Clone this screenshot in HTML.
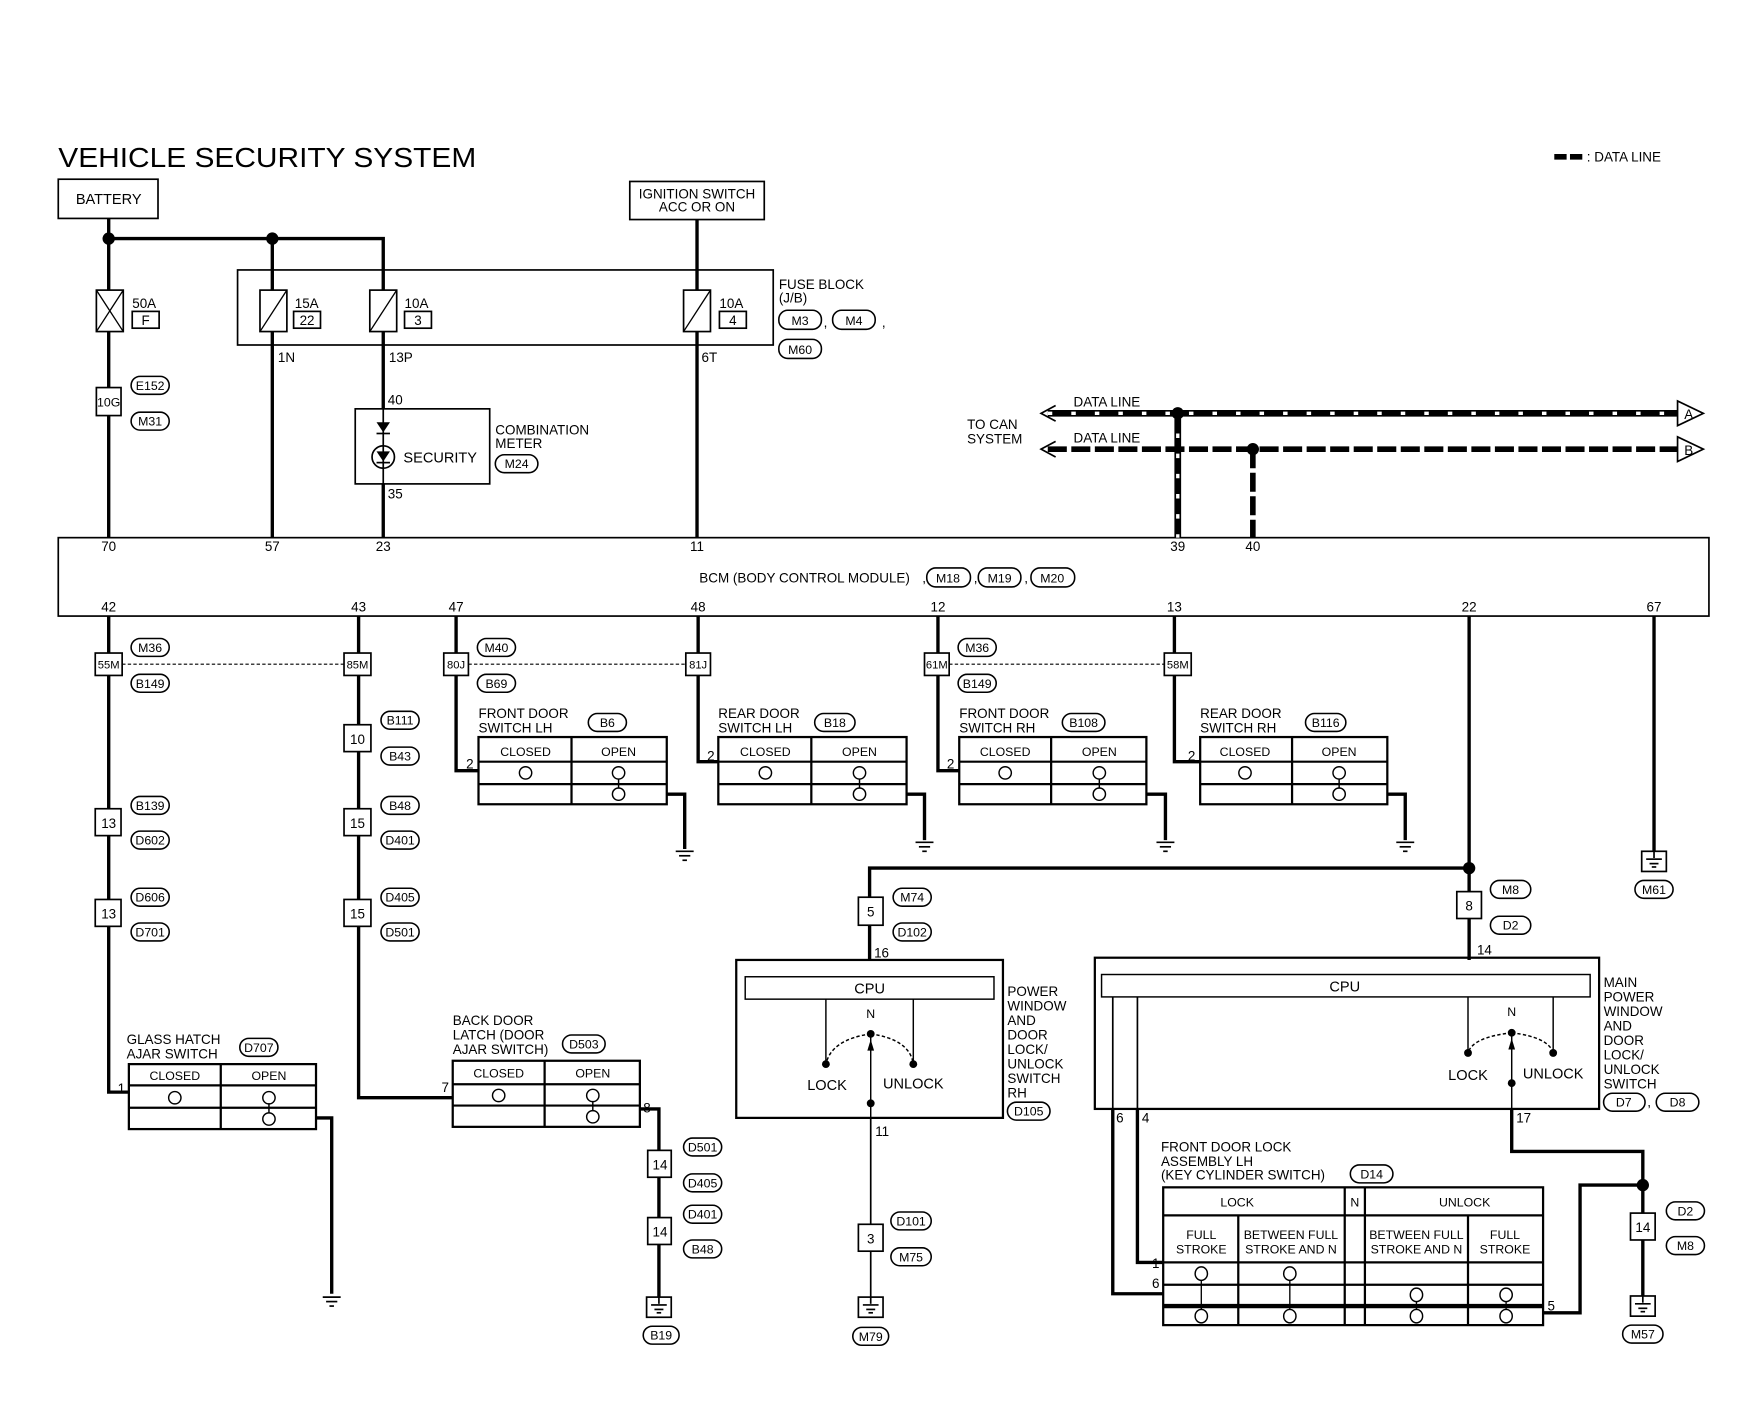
<!DOCTYPE html>
<html><head><meta charset="utf-8"><style>
html,body{margin:0;padding:0;background:#fff}
svg{display:block}
text{font-family:"Liberation Sans",sans-serif;fill:#000}
</style></head><body>
<svg width="1756" height="1408" viewBox="0 0 1567 1257" preserveAspectRatio="none" xmlns="http://www.w3.org/2000/svg">
<defs>
<g id="gnd"><line x1="-8" y1="0" x2="8" y2="0" stroke="#000" stroke-width="1.5"/><line x1="-5" y1="4" x2="5" y2="4" stroke="#000" stroke-width="1.5"/><line x1="-2" y1="8" x2="2" y2="8" stroke="#000" stroke-width="1.5"/></g>
<g id="gbox"><rect x="-11" y="0" width="22" height="18" fill="#fff" stroke="#000" stroke-width="1.5"/><line x1="0" y1="0" x2="0" y2="6" stroke="#000" stroke-width="1.5"/><line x1="-7" y1="7" x2="7" y2="7" stroke="#000" stroke-width="1.5"/><line x1="-4" y1="11" x2="4" y2="11" stroke="#000" stroke-width="1.5"/><line x1="-2" y1="14" x2="2" y2="14" stroke="#000" stroke-width="1.5"/></g>
</defs>
<rect width="1567" height="1257" fill="#fff"/>
<text x="52" y="149" font-size="25" textLength="373" lengthAdjust="spacingAndGlyphs">VEHICLE SECURITY SYSTEM</text>
<line x1="1387" y1="140" x2="1413" y2="140" stroke="#000" stroke-width="5" stroke-dasharray="11 3"/>
<text x="1416" y="144" font-size="12">: DATA LINE</text>

<g fill="none" stroke="#000" stroke-width="1.5">
<rect x="52" y="160" width="89" height="35"/>
<rect x="562" y="162" width="120" height="34"/>
<rect x="212" y="241" width="478" height="67"/>
<rect x="317" y="365" width="120" height="67"/>
<rect x="52" y="480" width="1473" height="70"/>
</g>
<text x="97" y="182" font-size="13" text-anchor="middle">BATTERY</text>
<text x="622" y="177" font-size="12" text-anchor="middle">IGNITION SWITCH</text>
<text x="622" y="189" font-size="12" text-anchor="middle">ACC OR ON</text>

<g fill="none" stroke="#000" stroke-width="3">
<polyline points="97,195 97,480"/>
<polyline points="97,213 342,213 342,365"/>
<line x1="243" y1="213" x2="243" y2="480"/>
<line x1="622" y1="196" x2="622" y2="480"/>
<line x1="342" y1="432" x2="342" y2="480"/>
</g>
<circle cx="97" cy="213" r="5.5"/><circle cx="243" cy="213" r="5.5"/>
<g fill="#fff" stroke="#000" stroke-width="1.5">
<rect x="86" y="259" width="24" height="37"/>
<rect x="232" y="259" width="24" height="37"/>
<rect x="330" y="259" width="24" height="37"/>
<rect x="610" y="259" width="24" height="37"/>
<rect x="118" y="278" width="24" height="15"/>
<rect x="262" y="278" width="24" height="15"/>
<rect x="361" y="278" width="24" height="15"/>
<rect x="642" y="278" width="24" height="15"/>
<rect x="86" y="346" width="22" height="25"/>
</g>
<g stroke="#000" stroke-width="1.2">
<line x1="86" y1="259" x2="110" y2="296"/><line x1="110" y1="259" x2="86" y2="296"/>
<line x1="256" y1="259" x2="232" y2="296"/>
<line x1="354" y1="259" x2="330" y2="296"/>
<line x1="634" y1="259" x2="610" y2="296"/>
</g>
<g font-size="12">
<text x="118" y="275">50A</text><text x="130" y="290" text-anchor="middle">F</text>
<text x="263" y="275">15A</text><text x="274" y="290" text-anchor="middle">22</text>
<text x="361" y="275">10A</text><text x="373" y="290" text-anchor="middle">3</text>
<text x="642" y="275">10A</text><text x="654" y="290" text-anchor="middle">4</text>
<text x="97" y="363" text-anchor="middle" font-size="11">10G</text>
<text x="695" y="258">FUSE BLOCK</text><text x="695" y="270">(J/B)</text>
<text x="248" y="323">1N</text><text x="347" y="323">13P</text><text x="626" y="323">6T</text>
<text x="346" y="361">40</text><text x="346" y="445">35</text>
<text x="442" y="388">COMBINATION</text><text x="442" y="400">METER</text>
<text x="360" y="413" font-size="13">SECURITY</text>
<text x="735" y="292">,</text><text x="787" y="292">,</text>
</g>
<g fill="none" stroke="#000" stroke-width="1.4">
<rect x="695" y="277" width="38" height="17" rx="8"/>
<rect x="743" y="277" width="38" height="17" rx="8"/>
<rect x="695" y="303" width="38" height="17" rx="8"/>
<rect x="117" y="336" width="34" height="16" rx="8"/>
<rect x="117" y="368" width="34" height="16" rx="8"/>
<rect x="442" y="406" width="38" height="16" rx="8"/>
</g>
<g font-size="11" text-anchor="middle">
<text x="714" y="290">M3</text><text x="762" y="290">M4</text><text x="714" y="316">M60</text>
<text x="134" y="348">E152</text><text x="134" y="380">M31</text><text x="461" y="418">M24</text>
</g>
<path d="M336,377 L348,377 L342,386 Z"/><line x1="336" y1="387" x2="348" y2="387" stroke="#000" stroke-width="1.5"/>
<line x1="342" y1="365" x2="342" y2="432" stroke="#000" stroke-width="1.5"/>
<circle cx="342" cy="408" r="10" fill="none" stroke="#000" stroke-width="1.5"/>
<path d="M336,403 L348,403 L342,412 Z"/><line x1="336" y1="413" x2="348" y2="413" stroke="#000" stroke-width="1.5"/>

<g fill="none">
<line x1="935" y1="369" x2="1497" y2="369" stroke="#000" stroke-width="6"/>
<line x1="935" y1="369" x2="1497" y2="369" stroke="#fff" stroke-width="3" stroke-dasharray="4 17"/>
<line x1="935" y1="401" x2="1497" y2="401" stroke="#000" stroke-width="5" stroke-dasharray="17 4"/>
<line x1="1051" y1="369" x2="1051" y2="480" stroke="#000" stroke-width="6"/>
<line x1="1051" y1="369" x2="1051" y2="480" stroke="#fff" stroke-width="3" stroke-dasharray="4 14"/>
<line x1="1118" y1="401" x2="1118" y2="480" stroke="#000" stroke-width="5" stroke-dasharray="17 4"/>
<path d="M942,362 L929,369 L942,376 M942,394 L929,401 L942,408" stroke="#000" stroke-width="1.5"/>
<path d="M1497,358 L1497,380 L1520,369 Z M1497,390 L1497,412 L1520,401 Z" stroke="#000" stroke-width="1.5" fill="#fff"/>
</g>
<circle cx="1051" cy="369" r="5.5"/><circle cx="1118" cy="401" r="5.5"/>
<g font-size="12">
<text x="958" y="363">DATA LINE</text><text x="958" y="395">DATA LINE</text>
<text x="863" y="383">TO CAN</text><text x="863" y="396">SYSTEM</text>
<text x="1503" y="374">A</text><text x="1503" y="406">B</text>
</g>

<g font-size="12" text-anchor="middle">
<text x="97" y="492">70</text><text x="243" y="492">57</text><text x="342" y="492">23</text><text x="622" y="492">11</text><text x="1051" y="492">39</text><text x="1118" y="492">40</text>
<text x="97" y="546">42</text><text x="320" y="546">43</text><text x="407" y="546">47</text><text x="623" y="546">48</text><text x="837" y="546">12</text><text x="1048" y="546">13</text><text x="1311" y="546">22</text><text x="1476" y="546">67</text>
<text x="718" y="520">BCM (BODY CONTROL MODULE)</text>
<text x="846" y="520" font-size="11">M18</text><text x="892" y="520" font-size="11">M19</text><text x="939" y="520" font-size="11">M20</text>
</g>
<text x="823" y="520" font-size="12">,</text><text x="869" y="520" font-size="12">,</text><text x="914" y="520" font-size="12">,</text>
<g fill="none" stroke="#000" stroke-width="1.4">
<rect x="827" y="507" width="39" height="17" rx="8"/><rect x="873" y="507" width="38" height="17" rx="8"/><rect x="920" y="507" width="39" height="17" rx="8"/>
</g>

<g fill="none" stroke="#000" stroke-width="3">
<polyline points="97,550 97,975 115,975"/>
<polyline points="320,550 320,980 404,980"/>
<polyline points="407,550 407,688 427,688"/>
<polyline points="623,550 623,680 641,680"/>
<polyline points="837,550 837,688 856,688"/>
<polyline points="1048,550 1048,680 1071,680"/>
<polyline points="282,998 296,998 296,1155"/>
<polyline points="571,990 588,990 588,1158"/>
<polyline points="595,709 611,709 611,758"/>
<polyline points="809,709 825,709 825,750"/>
<polyline points="1023,709 1040,709 1040,750"/>
<polyline points="1238,709 1254,709 1254,750"/>
<polyline points="1311,550 1311,857"/>
<polyline points="1311,775 776,775 776,857"/>
<line x1="1476" y1="550" x2="1476" y2="760"/>
<line x1="1466" y1="1058" x2="1466" y2="1157"/>
<polyline points="1349,990 1349,1028 1466,1028 1466,1058 1410,1058 1410,1172 1377,1172"/>
<polyline points="993,990 993,1155 1038,1155"/>
<polyline points="1015,990 1015,1127 1038,1127"/>
</g>
<g fill="none" stroke="#000" stroke-width="1.5">
<polyline points="993,890 993,990"/><polyline points="1015,890 1015,990"/>
<line x1="777" y1="998" x2="777" y2="1158"/>
<line x1="1311" y1="820" x2="1311" y2="857"/>
</g>
<circle cx="1311" cy="775" r="5.5"/><circle cx="1466" cy="1058" r="5.5"/>
<g stroke="#000" stroke-width="1" stroke-dasharray="3 2"><line x1="109" y1="593" x2="307" y2="593"/><line x1="418" y1="593" x2="612" y2="593"/><line x1="847" y1="593" x2="1039" y2="593"/></g>

<g fill="#fff" stroke="#000" stroke-width="1.5">
<rect x="85" y="583" width="24" height="20"/><rect x="85" y="722" width="23" height="24"/><rect x="85" y="803" width="23" height="24"/>
<rect x="307" y="583" width="24" height="20"/><rect x="307" y="647" width="24" height="24"/><rect x="307" y="722" width="24" height="24"/><rect x="307" y="803" width="24" height="24"/>
<rect x="396" y="583" width="22" height="20"/><rect x="612" y="583" width="22" height="20"/><rect x="825" y="583" width="22" height="20"/><rect x="1039" y="583" width="24" height="20"/>
<rect x="578" y="1027" width="21" height="24"/><rect x="578" y="1087" width="21" height="24"/>
<rect x="766" y="801" width="22" height="25"/><rect x="1300" y="796" width="22" height="24"/>
<rect x="766" y="1093" width="22" height="24"/><rect x="1455" y="1083" width="22" height="24"/>
</g>
<g font-size="10" text-anchor="middle">
<text x="97" y="597">55M</text><text x="319" y="597">85M</text><text x="407" y="597">80J</text><text x="623" y="597">81J</text><text x="836" y="597">61M</text><text x="1051" y="597">58M</text>
</g>
<g font-size="12" text-anchor="middle">
<text x="97" y="739">13</text><text x="97" y="820">13</text><text x="319" y="664">10</text><text x="319" y="739">15</text><text x="319" y="820">15</text>
<text x="589" y="1044">14</text><text x="589" y="1104">14</text><text x="777" y="818">5</text><text x="1311" y="813">8</text><text x="777" y="1110">3</text><text x="1466" y="1100">14</text>
</g>
<g fill="none" stroke="#000" stroke-width="1.4">
<rect x="117" y="570" width="34" height="16" rx="8"/><rect x="117" y="602" width="34" height="16" rx="8"/><rect x="117" y="711" width="34" height="16" rx="8"/><rect x="117" y="742" width="34" height="16" rx="8"/><rect x="117" y="793" width="34" height="16" rx="8"/><rect x="117" y="824" width="34" height="16" rx="8"/>
<rect x="340" y="635" width="34" height="16" rx="8"/><rect x="340" y="667" width="34" height="16" rx="8"/><rect x="340" y="711" width="34" height="16" rx="8"/><rect x="340" y="742" width="34" height="16" rx="8"/><rect x="340" y="793" width="34" height="16" rx="8"/><rect x="340" y="824" width="34" height="16" rx="8"/>
<rect x="426" y="570" width="34" height="16" rx="8"/><rect x="426" y="602" width="34" height="16" rx="8"/>
<rect x="855" y="570" width="34" height="16" rx="8"/><rect x="855" y="602" width="34" height="16" rx="8"/>
<rect x="525" y="637" width="34" height="16" rx="8"/><rect x="727" y="637" width="36" height="16" rx="8"/><rect x="948" y="637" width="38" height="16" rx="8"/><rect x="1165" y="637" width="36" height="16" rx="8"/>
<rect x="1459" y="786" width="34" height="16" rx="8"/>
<rect x="797" y="793" width="34" height="16" rx="8"/><rect x="797" y="824" width="34" height="16" rx="8"/>
<rect x="1330" y="786" width="36" height="16" rx="8"/><rect x="1330" y="818" width="36" height="16" rx="8"/>
<rect x="214" y="927" width="34" height="16" rx="8"/><rect x="502" y="924" width="38" height="16" rx="8"/>
<rect x="610" y="1016" width="34" height="16" rx="8"/><rect x="610" y="1048" width="34" height="16" rx="8"/><rect x="610" y="1076" width="34" height="16" rx="8"/><rect x="610" y="1107" width="34" height="16" rx="8"/>
<rect x="574" y="1184" width="32" height="16" rx="8"/>
<rect x="899" y="984" width="38" height="16" rx="8"/>
<rect x="795" y="1082" width="36" height="16" rx="8"/><rect x="795" y="1114" width="36" height="16" rx="8"/><rect x="761" y="1185" width="32" height="16" rx="8"/>
<rect x="1431" y="976" width="37" height="16" rx="8"/><rect x="1478" y="976" width="38" height="16" rx="8"/>
<rect x="1205" y="1040" width="38" height="16" rx="8"/>
<rect x="1487" y="1073" width="34" height="16" rx="8"/><rect x="1487" y="1104" width="34" height="16" rx="8"/><rect x="1448" y="1183" width="36" height="16" rx="8"/>
</g>
<g font-size="11" text-anchor="middle">
<text x="134" y="582">M36</text><text x="134" y="614">B149</text><text x="134" y="723">B139</text><text x="134" y="754">D602</text><text x="134" y="805">D606</text><text x="134" y="836">D701</text>
<text x="357" y="647">B111</text><text x="357" y="679">B43</text><text x="357" y="723">B48</text><text x="357" y="754">D401</text><text x="357" y="805">D405</text><text x="357" y="836">D501</text>
<text x="443" y="582">M40</text><text x="443" y="614">B69</text><text x="872" y="582">M36</text><text x="872" y="614">B149</text>
<text x="542" y="649">B6</text><text x="745" y="649">B18</text><text x="967" y="649">B108</text><text x="1183" y="649">B116</text>
<text x="1476" y="798">M61</text><text x="814" y="805">M74</text><text x="814" y="836">D102</text><text x="1348" y="798">M8</text><text x="1348" y="830">D2</text>
<text x="231" y="939">D707</text><text x="521" y="936">D503</text>
<text x="627" y="1028">D501</text><text x="627" y="1060">D405</text><text x="627" y="1088">D401</text><text x="627" y="1119">B48</text><text x="590" y="1196">B19</text>
<text x="918" y="996">D105</text><text x="813" y="1094">D101</text><text x="813" y="1126">M75</text><text x="777" y="1197">M79</text>
<text x="1449" y="988">D7</text><text x="1497" y="988">D8</text><text x="1224" y="1052">D14</text>
<text x="1504" y="1085">D2</text><text x="1504" y="1116">M8</text><text x="1466" y="1195">M57</text>
</g>
<text x="1470" y="988" font-size="12">,</text>

<use href="#gnd" x="296" y="1158"/><use href="#gnd" x="611" y="760"/><use href="#gnd" x="825" y="752"/><use href="#gnd" x="1040" y="752"/><use href="#gnd" x="1254" y="752"/>
<use href="#gbox" x="1476" y="760"/><use href="#gbox" x="588" y="1158"/><use href="#gbox" x="777" y="1158"/><use href="#gbox" x="1466" y="1157"/>

<g fill="none" stroke="#000" stroke-width="2">
<rect x="427" y="658" width="168" height="60"/><line x1="510" y1="658" x2="510" y2="718"/><line x1="427" y1="680" x2="595" y2="680"/><line x1="427" y1="700" x2="595" y2="700"/>
<rect x="641" y="658" width="168" height="60"/><line x1="724" y1="658" x2="724" y2="718"/><line x1="641" y1="680" x2="809" y2="680"/><line x1="641" y1="700" x2="809" y2="700"/>
<rect x="856" y="658" width="167" height="60"/><line x1="938" y1="658" x2="938" y2="718"/><line x1="856" y1="680" x2="1023" y2="680"/><line x1="856" y1="700" x2="1023" y2="700"/>
<rect x="1071" y="658" width="167" height="60"/><line x1="1153" y1="658" x2="1153" y2="718"/><line x1="1071" y1="680" x2="1238" y2="680"/><line x1="1071" y1="700" x2="1238" y2="700"/>
<rect x="115" y="950" width="167" height="58"/><line x1="197" y1="950" x2="197" y2="1008"/><line x1="115" y1="969" x2="282" y2="969"/><line x1="115" y1="989" x2="282" y2="989"/>
<rect x="404" y="947" width="167" height="59"/><line x1="486" y1="947" x2="486" y2="1006"/><line x1="404" y1="968" x2="571" y2="968"/><line x1="404" y1="987" x2="571" y2="987"/>
</g>
<g fill="#fff" stroke="#000" stroke-width="1.3">
<circle cx="469" cy="690" r="5.5"/><circle cx="552" cy="690" r="5.5"/><circle cx="552" cy="709" r="5.5"/>
<circle cx="683" cy="690" r="5.5"/><circle cx="767" cy="690" r="5.5"/><circle cx="767" cy="709" r="5.5"/>
<circle cx="897" cy="690" r="5.5"/><circle cx="981" cy="690" r="5.5"/><circle cx="981" cy="709" r="5.5"/>
<circle cx="1111" cy="690" r="5.5"/><circle cx="1195" cy="690" r="5.5"/><circle cx="1195" cy="709" r="5.5"/>
<circle cx="156" cy="980" r="5.5"/><circle cx="240" cy="980" r="5.5"/><circle cx="240" cy="999" r="5.5"/>
<circle cx="445" cy="978" r="5.5"/><circle cx="529" cy="978" r="5.5"/><circle cx="529" cy="997" r="5.5"/>
</g>
<g stroke="#000" stroke-width="1.3"><line x1="552" y1="695" x2="552" y2="704"/><line x1="767" y1="695" x2="767" y2="704"/><line x1="981" y1="695" x2="981" y2="704"/><line x1="1195" y1="695" x2="1195" y2="704"/><line x1="240" y1="985" x2="240" y2="994"/><line x1="529" y1="983" x2="529" y2="992"/></g>
<g font-size="11" text-anchor="middle">
<text x="469" y="675">CLOSED</text><text x="552" y="675">OPEN</text><text x="683" y="675">CLOSED</text><text x="767" y="675">OPEN</text>
<text x="897" y="675">CLOSED</text><text x="981" y="675">OPEN</text><text x="1111" y="675">CLOSED</text><text x="1195" y="675">OPEN</text>
<text x="156" y="964">CLOSED</text><text x="240" y="964">OPEN</text><text x="445" y="962">CLOSED</text><text x="529" y="962">OPEN</text>
</g>
<g font-size="12">
<text x="427" y="641">FRONT DOOR</text><text x="427" y="654">SWITCH LH</text>
<text x="641" y="641">REAR DOOR</text><text x="641" y="654">SWITCH LH</text>
<text x="856" y="641">FRONT DOOR</text><text x="856" y="654">SWITCH RH</text>
<text x="1071" y="641">REAR DOOR</text><text x="1071" y="654">SWITCH RH</text>
<text x="416" y="686">2</text><text x="631" y="679">2</text><text x="845" y="686">2</text><text x="1060" y="679">2</text>
<text x="113" y="932">GLASS HATCH</text><text x="113" y="945">AJAR SWITCH</text><text x="105" y="976">1</text>
<text x="404" y="915">BACK DOOR</text><text x="404" y="928">LATCH (DOOR</text><text x="404" y="941">AJAR SWITCH)</text><text x="394" y="975">7</text><text x="574" y="993">8</text>
<text x="780" y="855">16</text><text x="781" y="1014">11</text><text x="1318" y="852">14</text>
<text x="996" y="1002">6</text><text x="1019" y="1002">4</text><text x="1353" y="1002">17</text>
<text x="1028" y="1132">1</text><text x="1028" y="1150">6</text><text x="1381" y="1170">5</text>
<text x="1036" y="1028">FRONT DOOR LOCK</text><text x="1036" y="1041">ASSEMBLY LH</text><text x="1036" y="1053">(KEY CYLINDER SWITCH)</text>
</g>

<g fill="none" stroke="#000" stroke-width="2">
<rect x="657" y="857" width="238" height="141"/><rect x="977" y="855" width="450" height="135"/>
</g>
<g fill="none" stroke="#000" stroke-width="1.3">
<rect x="665" y="872" width="222" height="20"/><rect x="983" y="870" width="436" height="20"/>
<line x1="737" y1="892" x2="737" y2="950"/><line x1="815" y1="892" x2="815" y2="950"/><line x1="777" y1="925" x2="777" y2="998"/>
<path d="M777,923 Q742,928 737,950 M777,923 Q812,928 815,950" stroke-dasharray="3 2"/>
<line x1="1310" y1="890" x2="1310" y2="940"/><line x1="1386" y1="890" x2="1386" y2="940"/><line x1="1349" y1="925" x2="1349" y2="990"/>
<path d="M1349,922 Q1314,926 1310,940 M1349,922 Q1382,926 1386,940" stroke-dasharray="3 2"/>
</g>
<g><circle cx="737" cy="950" r="3.5"/><circle cx="815" cy="950" r="3.5"/><circle cx="777" cy="923" r="3.5"/><circle cx="777" cy="985" r="3.5"/>
<circle cx="1310" cy="940" r="3.5"/><circle cx="1386" cy="940" r="3.5"/><circle cx="1349" cy="922" r="3.5"/><circle cx="1349" cy="967" r="3.5"/>
<path d="M774,938 L777,928 L780,938 Z"/><path d="M1346,937 L1349,927 L1352,937 Z"/></g>
<g font-size="13" text-anchor="middle">
<text x="776" y="887">CPU</text><text x="1200" y="885">CPU</text>
<text x="777" y="909" font-size="11">N</text><text x="1349" y="907" font-size="11">N</text>
<text x="738" y="973">LOCK</text><text x="815" y="972">UNLOCK</text>
<text x="1310" y="964">LOCK</text><text x="1386" y="963">UNLOCK</text>
</g>
<g font-size="12">
<text x="899" y="889">POWER</text><text x="899" y="902">WINDOW</text><text x="899" y="915">AND</text><text x="899" y="928">DOOR</text><text x="899" y="941">LOCK/</text><text x="899" y="954">UNLOCK</text><text x="899" y="967">SWITCH</text><text x="899" y="980">RH</text>
<text x="1431" y="881">MAIN</text><text x="1431" y="894">POWER</text><text x="1431" y="907">WINDOW</text><text x="1431" y="920">AND</text><text x="1431" y="933">DOOR</text><text x="1431" y="946">LOCK/</text><text x="1431" y="959">UNLOCK</text><text x="1431" y="972">SWITCH</text>
</g>

<g fill="none" stroke="#000" stroke-width="2">
<rect x="1038" y="1060" width="339" height="123"/>
<line x1="1038" y1="1085" x2="1377" y2="1085"/><line x1="1038" y1="1127" x2="1377" y2="1127"/><line x1="1038" y1="1147" x2="1377" y2="1147"/>
<line x1="1200" y1="1060" x2="1200" y2="1183"/><line x1="1218" y1="1060" x2="1218" y2="1183"/>
<line x1="1105" y1="1085" x2="1105" y2="1183"/><line x1="1310" y1="1085" x2="1310" y2="1183"/>
<line x1="1038" y1="1166" x2="1377" y2="1166" stroke-width="4"/>
</g>
<g stroke="#000" stroke-width="1.2"><line x1="1072" y1="1137" x2="1072" y2="1175"/><line x1="1151" y1="1137" x2="1151" y2="1175"/><line x1="1264" y1="1156" x2="1264" y2="1175"/><line x1="1344" y1="1156" x2="1344" y2="1175"/></g>
<g fill="#fff" stroke="#000" stroke-width="1.3">
<ellipse cx="1072" cy="1137" rx="5.5" ry="6"/><ellipse cx="1151" cy="1137" rx="5.5" ry="6"/>
<ellipse cx="1264" cy="1156" rx="5.5" ry="6"/><ellipse cx="1344" cy="1156" rx="5.5" ry="6"/>
<ellipse cx="1072" cy="1175" rx="5.5" ry="6"/><ellipse cx="1151" cy="1175" rx="5.5" ry="6"/><ellipse cx="1264" cy="1175" rx="5.5" ry="6"/><ellipse cx="1344" cy="1175" rx="5.5" ry="6"/>
</g>
<g font-size="11" text-anchor="middle">
<text x="1104" y="1077">LOCK</text><text x="1209" y="1077">N</text><text x="1307" y="1077">UNLOCK</text>
<text x="1072" y="1106">FULL</text><text x="1072" y="1119">STROKE</text>
<text x="1152" y="1106">BETWEEN FULL</text><text x="1152" y="1119">STROKE AND N</text>
<text x="1264" y="1106">BETWEEN FULL</text><text x="1264" y="1119">STROKE AND N</text>
<text x="1343" y="1106">FULL</text><text x="1343" y="1119">STROKE</text>
</g>
</svg>
</body></html>
